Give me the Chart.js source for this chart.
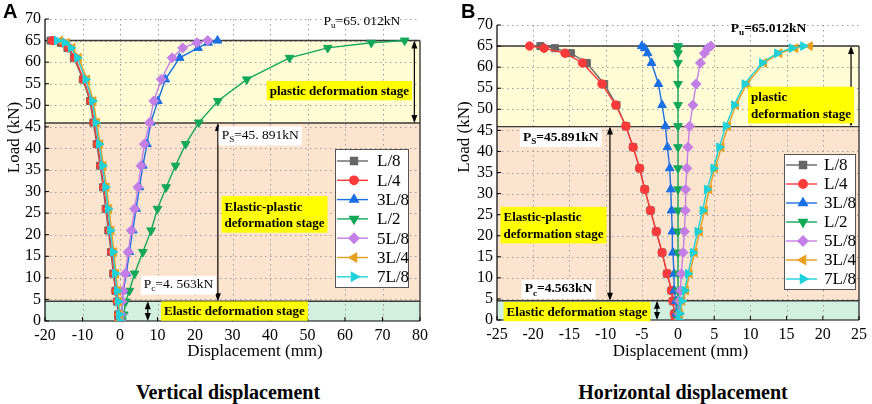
<!DOCTYPE html>
<html><head><meta charset="utf-8">
<script src="https://cdn.jsdelivr.net/npm/chart.js@4.4.0/dist/chart.umd.min.js"></script>
<style>
body{margin:0;background:#fff;width:872px;height:404px;overflow:hidden;position:relative}
canvas{position:absolute;top:0}
#cA{left:0}#cB{left:436px}
.ttl{position:absolute;top:381px;font:bold 20px "Liberation Serif","Times New Roman",serif;text-align:center;line-height:22px}
.pl{position:absolute;top:0;font:bold 20px "Liberation Sans",Arial,sans-serif;line-height:22px}
</style></head><body>
<canvas id="cA" width="436" height="365"></canvas>
<canvas id="cB" width="436" height="365"></canvas>
<div class="pl" style="left:3px">A</div>
<div class="pl" style="left:461px">B</div>
<div class="ttl" style="left:128px;width:200px">Vertical displacement</div>
<div class="ttl" style="left:573px;width:220px">Horizontal displacement</div>
<script>
const SERIF='"Liberation Serif","Times New Roman",serif';
// ---- data ----
const loads=[0,1.5,4.5,7,11,16,21,26,31,36,41,46,51,56,61,63.3,64.5,65];
const seriesNames=['L/8','L/4','3L/8','L/2','5L/8','3L/4','7L/8'];
const Pc=4.563, Ps=45.891, Pu=65.012;
const xTicksA={min:-20,max:80,step:10};
const xTicksB={min:-25,max:25,step:5};
const yTicks={min:0,max:70,step:5};
// vertical displacement (mm)
const vL8 =[-0.4,-0.5,-0.8,-1.2,-1.8,-2.4,-3.1,-3.8,-4.5,-5.3,-6.2,-7.1,-8.0,-9.9,-12.3,-14.0,-15.8,-18.5];
const vL4 =[-0.3,-0.4,-0.7,-1.1,-1.6,-2.2,-2.9,-3.6,-4.3,-5.1,-6.0,-6.9,-7.8,-9.7,-12.0,-13.7,-15.4,-18.0];
const v3L8=[0.3,0.4,0.6,0.9,1.7,2.5,3.4,4.3,5.2,6.1,7.2,8.2,10.1,12.1,15.9,20.8,23.5,26.0];
const vL2 =[0.5,1.0,1.5,2.5,3.9,6.1,8.3,10.0,12.3,14.8,17.5,21.0,26.1,33.8,45.2,55.4,67.0,75.9];
const v5L8=[0.2,0.3,0.5,0.8,1.4,2.2,3.0,3.9,4.8,5.6,6.5,7.9,9.0,11.0,13.9,16.7,20.5,23.4];
const v3L4=[0.0,-0.1,-0.3,-0.6,-1.1,-1.6,-2.3,-2.9,-3.6,-4.4,-5.3,-6.2,-7.1,-8.8,-11.0,-12.7,-14.2,-16.0];
const v7L8=[-0.1,-0.2,-0.5,-0.8,-1.3,-1.9,-2.6,-3.2,-3.9,-4.7,-5.6,-6.5,-7.4,-9.2,-11.4,-13.1,-14.7,-16.8];
// horizontal displacement (mm)
const hL8 =[-0.4,-0.5,-0.7,-0.9,-1.5,-2.2,-3.0,-3.8,-4.6,-5.3,-6.2,-7.2,-8.5,-10.2,-12.6,-14.8,-17.0,-19.0];
const hL4 =[-0.4,-0.5,-0.7,-0.9,-1.5,-2.2,-3.0,-3.8,-4.6,-5.3,-6.2,-7.2,-8.6,-10.5,-13.2,-15.6,-18.5,-20.5];
const h3L8=[-0.1,-0.2,-0.3,-0.5,-0.55,-0.7,-0.78,-0.9,-1.0,-1.14,-1.46,-1.74,-2.2,-2.7,-3.65,-4.2,-4.6,-5.0];
const hL2 =[0,0,0,0,0,0,0,0,0,0,0,0,0,0,0,0,0,0];
const h5L8=[0.1,0.15,0.2,0.35,0.45,0.7,0.9,1.0,1.05,1.23,1.37,1.6,2.05,2.5,3.1,3.65,4.1,4.55];
const h3L4=[0.2,0.3,0.6,1.1,1.6,2.3,3.0,3.7,4.3,5.1,6.0,6.9,8.0,9.5,11.9,14.0,16.2,18.2];
const h7L8=[0.1,0.2,0.5,0.9,1.37,2.05,2.7,3.4,4.0,4.9,5.7,6.6,7.75,9.2,11.6,13.7,15.7,17.3];

const vertSeries=[vL8,vL4,v3L8,vL2,v5L8,v3L4,v7L8];
const horSeries=[hL8,hL4,h3L8,hL2,h5L8,h3L4,h7L8];

const styles=[
 {color:'#666666',pointStyle:'rect',rotation:0,radius:5},
 {color:'#ff3a3a',pointStyle:'circle',rotation:0,radius:4.2},
 {color:'#1a6fe6',pointStyle:'triangle',rotation:0,radius:5},
 {color:'#12a85a',pointStyle:'triangle',rotation:180,radius:5},
 {color:'#c47fe6',pointStyle:'rectRot',rotation:0,radius:5},
 {color:'#e6a01e',pointStyle:'triangle',rotation:-90,radius:5},
 {color:'#1ed2dc',pointStyle:'triangle',rotation:90,radius:5}];

const C_PL='#fffcd6', C_EP='#fde4cf', C_EL='#d3efdf', C_Y='#ffff00';

function datasets(series){
  return series.map((vals,i)=>({
    label:seriesNames[i],
    data:vals.map((v,k)=>({x:v,y:loads[k]})),
    borderColor:styles[i].color, backgroundColor:styles[i].color,
    pointBackgroundColor:styles[i].color, pointBorderColor:styles[i].color,
    pointStyle:styles[i].pointStyle, pointRotation:styles[i].rotation,
    pointRadius:styles[i].radius, pointBorderWidth:1, borderWidth:1.4,
    tension:0, order:-i
  }));
}

function marker(ctx,st,x,y){
  if(Chart.helpers && Chart.helpers.drawPoint){
    ctx.fillStyle=st.color; ctx.strokeStyle=st.color;
    Chart.helpers.drawPoint(ctx,{pointStyle:st.pointStyle,radius:st.radius,rotation:st.rotation,borderWidth:1},x,y);
  }
}

function arrowHead(ctx,x,y,dir){ // dir -1 up, 1 down
  ctx.beginPath(); ctx.moveTo(x,y); ctx.lineTo(x-3,y-dir*8); ctx.lineTo(x+3,y-dir*8); ctx.closePath(); ctx.fill();
}
function dArrow(ctx,x,y1,y2){
  ctx.beginPath(); ctx.moveTo(x,y1+2); ctx.lineTo(x,y2-2); ctx.stroke();
  arrowHead(ctx,x,y1,-1); arrowHead(ctx,x,y2,1);
}
function pText(ctx,x,y,sub,rest,size,bold,measureOnly){
  const f=(s)=>(bold?'bold ':'')+s+'px '+SERIF;
  ctx.font=f(size); const w1=ctx.measureText('P').width;
  ctx.font=f(size*0.68); const w2=ctx.measureText(sub).width;
  ctx.font=f(size); const w3=ctx.measureText(rest).width;
  if(!measureOnly){
    ctx.textBaseline='middle'; ctx.textAlign='left'; ctx.fillStyle='#000';
    ctx.font=f(size); ctx.fillText('P',x,y);
    ctx.font=f(size*0.68); ctx.fillText(sub,x+w1,y+size*0.32);
    ctx.font=f(size); ctx.fillText(rest,x+w1+w2,y);
  }
  return w1+w2+w3;
}

function makePlugin(ann){
  return {
   id:'deco',
   beforeDatasetsDraw(chart){
     const {ctx,chartArea:a,scales:{x,y}}=chart;
     const yu=y.getPixelForValue(Pu), ys=y.getPixelForValue(Ps), yc=y.getPixelForValue(Pc), y0=y.getPixelForValue(0);
     const w=a.right-a.left;
     ctx.save();
     ctx.fillStyle=C_PL; ctx.fillRect(a.left,yu,w,ys-yu);
     ctx.fillStyle=C_EP; ctx.fillRect(a.left,ys,w,yc-ys);
     ctx.fillStyle=C_EL; ctx.fillRect(a.left,yc,w,y0-yc);
     ctx.strokeStyle='#9c9c9c'; ctx.lineWidth=1; ctx.setLineDash([1.5,3.5]);
     x.ticks.forEach(t=>{ if(t.value===x.min||t.value===x.max) return;
       const p=Math.round(x.getPixelForValue(t.value))+0.5; ctx.beginPath(); ctx.moveTo(p,a.top); ctx.lineTo(p,a.bottom); ctx.stroke();});
     y.ticks.forEach(t=>{ if(t.value===y.min) return;
       const p=Math.round(y.getPixelForValue(t.value))+0.5; ctx.beginPath(); ctx.moveTo(a.left,p); ctx.lineTo(a.right,p); ctx.stroke();});
     ctx.setLineDash([]);
     ctx.strokeStyle='#3a3a3a'; ctx.lineWidth=1.4;
     [yu,ys,yc].forEach(p=>{ctx.beginPath(); ctx.moveTo(a.left,p); ctx.lineTo(a.right,p); ctx.stroke();});
     ctx.beginPath(); ctx.moveTo(a.right,yu); ctx.lineTo(a.right,y0); ctx.stroke();
     ctx.strokeStyle='#000'; ctx.lineWidth=1.2;
     ctx.beginPath(); ctx.moveTo(a.left,a.top); ctx.lineTo(a.left,a.bottom); ctx.lineTo(a.right,a.bottom); ctx.stroke();
     ctx.lineWidth=1;
     x.ticks.forEach(t=>{const p=x.getPixelForValue(t.value); ctx.beginPath(); ctx.moveTo(p,a.bottom); ctx.lineTo(p,a.bottom-4); ctx.stroke();});
     y.ticks.forEach(t=>{const p=y.getPixelForValue(t.value); ctx.beginPath(); ctx.moveTo(a.left,p); ctx.lineTo(a.left+4,p); ctx.stroke();});
     ctx.restore();
   },
   afterDatasetsDraw(chart){
     const {ctx,chartArea:a,scales:{x,y}}=chart;
     ctx.save();
     ctx.strokeStyle='#000'; ctx.fillStyle='#000'; ctx.lineWidth=1.2;
     ann.arrows.forEach(ar=>dArrow(ctx,x.getPixelForValue(ar.x),y.getPixelForValue(ar.y1),y.getPixelForValue(ar.y2)));
     // stage boxes
     ann.boxes.forEach(b=>{
       ctx.font='bold '+b.size+'px '+SERIF;
       const lw=Math.max(...b.lines.map(l=>ctx.measureText(l).width));
       const lh=b.size*1.25, bw=lw+b.padX*2, bh=lh*b.lines.length+b.padY*2;
       const cx=x.getPixelForValue(b.x), cy=y.getPixelForValue(b.y);
       ctx.fillStyle=C_Y; ctx.fillRect(cx-bw/2,cy-bh/2,bw,bh);
       ctx.fillStyle='#000'; ctx.textBaseline='middle'; ctx.textAlign='left';
       b.lines.forEach((l,i)=>ctx.fillText(l,cx-lw/2,cy-bh/2+b.padY+lh*(i+0.5)+1));
     });
     // P labels
     ann.labels.forEach(l=>{
       const w=pText(ctx,0,0,l.sub,l.rest,l.size,l.bold,true);
       const cx=x.getPixelForValue(l.x), cy=y.getPixelForValue(l.y);
       if(l.bg){ctx.fillStyle='#fff'; ctx.fillRect(cx-w/2-3,cy-9,w+6,19);}
       pText(ctx,cx-w/2,cy,l.sub,l.rest,l.size,l.bold,false);
     });
     // legend
     const L=ann.legend;
     ctx.fillStyle='#fff'; ctx.fillRect(L.left,L.top,L.width,L.height);
     ctx.strokeStyle='#555'; ctx.lineWidth=1; ctx.strokeRect(L.left+0.5,L.top+0.5,L.width,L.height);
     chart.data.datasets.forEach((d,i)=>{
       const yy=L.first+i*L.step, st=styles[i];
       ctx.strokeStyle=st.color; ctx.lineWidth=1.4;
       ctx.beginPath(); ctx.moveTo(L.left+2,yy); ctx.lineTo(L.left+33,yy); ctx.stroke();
       marker(ctx,st,L.left+19,yy);
       ctx.fillStyle='#000'; ctx.font='17px '+SERIF; ctx.textBaseline='middle'; ctx.textAlign='left';
       ctx.fillText(d.label,L.left+L.textX,yy+1);
     });
     ctx.restore();
   },
   afterDraw(chart){
     const ctx=chart.ctx; ctx.save(); ctx.fillStyle='#000';
     ctx.font='17px '+SERIF; ctx.textAlign='center'; ctx.textBaseline='middle';
     ctx.fillText('Displacement (mm)',ann.xTitle.x,ann.xTitle.y);
     ctx.translate(ann.yTitle.x,ann.yTitle.y); ctx.rotate(-Math.PI/2);
     ctx.fillText('Load (kN)',0,0);
     ctx.restore();
   }
  };
}

function makeChart(id,series,xr,pad,axisW,axisH,ann){
  return new Chart(document.getElementById(id),{
    type:'line',
    data:{datasets:datasets(series)},
    options:{
      responsive:false, animation:false, events:[],
      layout:{padding:pad},
      plugins:{legend:{display:false},tooltip:{enabled:false}},
      scales:{
        x:{type:'linear',min:xr.min,max:xr.max,
           ticks:{stepSize:xr.step,color:'#000',font:{family:SERIF,size:16},padding:5,maxRotation:0,autoSkip:false},
           grid:{display:false,drawTicks:false},border:{display:false},
           afterFit(s){s.height=axisH;}},
        y:{type:'linear',min:yTicks.min,max:yTicks.max,
           ticks:{stepSize:yTicks.step,color:'#000',font:{family:SERIF,size:16},padding:4,autoSkip:false},
           grid:{display:false,drawTicks:false},border:{display:false},
           afterFit(s){s.width=axisW;}}
      }
    },
    plugins:[makePlugin(ann)]
  });
}

const annA={
  arrows:[{x:78.5,y1:Pu,y2:Ps},{x:26.1,y1:Ps,y2:Pc},{x:7.4,y1:Pc,y2:0}],
  boxes:[
    {x:58.5,y:53.4,lines:['plastic deformation stage'],size:13,padX:3,padY:1.5},
    {x:41.2,y:24.7,lines:['Elastic-plastic','deformation stage'],size:13,padX:3,padY:2},
    {x:30.5,y:2.3,lines:['Elastic deformation stage'],size:13,padX:3,padY:1.5}],
  labels:[
    {x:64.5,y:69.4,sub:'u',rest:'=65. 012kN',size:13.5,bold:false,bg:false},
    {x:37.4,y:43.0,sub:'S',rest:'=45. 891kN',size:13.5,bold:false,bg:true},
    {x:15.6,y:8.4,sub:'c',rest:'=4. 563kN',size:13.5,bold:false,bg:true}],
  legend:{left:335,top:149,width:73,height:138,first:161,step:19.3,textX:42},
  xTitle:{x:255,y:352}, yTitle:{x:14.5,y:137.5}
};
const annB={
  arrows:[{x:23.9,y1:Pu,y2:Ps},{x:-9.4,y1:Ps,y2:Pc},{x:-2.9,y1:Pc,y2:0}],
  boxes:[
    {x:17.0,y:51.0,lines:['plastic','deformation stage'],size:13,padX:3,padY:2},
    {x:-17.2,y:22.5,lines:['Elastic-plastic','deformation stage'],size:13,padX:3,padY:2},
    {x:-13.95,y:2.0,lines:['Elastic deformation stage'],size:13,padX:3,padY:1.5}],
  labels:[
    {x:12.5,y:69.1,sub:'u',rest:'=65.012kN',size:13.5,bold:true,bg:false},
    {x:-16.2,y:43.4,sub:'S',rest:'=45.891kN',size:13.5,bold:true,bg:true},
    {x:-16.5,y:7.4,sub:'c',rest:'=4.563kN',size:13.5,bold:true,bg:true}],
  legend:{left:348,top:154,width:71,height:135,first:165,step:19,textX:40},
  xTitle:{x:244.5,y:352}, yTitle:{x:29,y:137}
};

makeChart('cA',vertSeries,xTicksA,{left:0,right:16,top:19,bottom:0},45,44,annA);
makeChart('cB',horSeries,xTicksB,{left:14,right:9,top:25,bottom:0},47,45,annB);
</script>
</body></html>
